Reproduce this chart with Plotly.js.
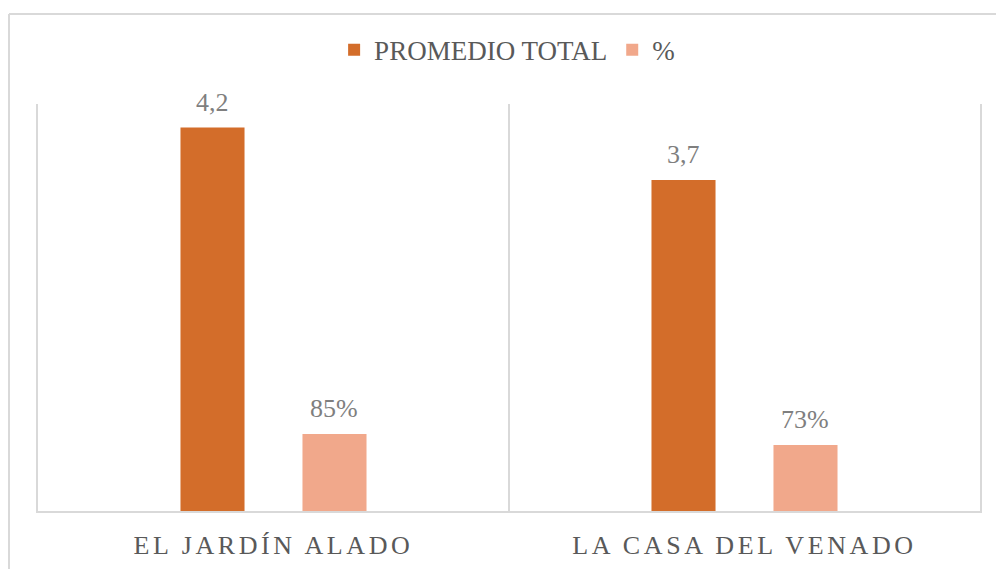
<!DOCTYPE html>
<html>
<head>
<meta charset="utf-8">
<script src="https://cdn.plot.ly/plotly-3.0.1.min.js"></script>
<style>
  html, body { margin: 0; padding: 0; background: #fff; }
  #chart { width: 996px; height: 569px; }
  .xtick text { letter-spacing: 3.6px; }
</style>
</head>
<body>
<div id="chart"></div>
<script>
const categories = ["EL JARDÍN ALADO", "LA CASA DEL VENADO"];
const promedioTotal = [4.24, 3.66];
const porcentaje = [0.85, 0.73];
const seriesNames = ["PROMEDIO TOTAL", "%"];

const serif = "Liberation Serif, Times New Roman, serif";
const bargap = 0.482, bargroupgap = 0.475;

const traces = [
  {
    type: "bar", name: seriesNames[0], x: categories, y: promedioTotal,
    marker: { color: "#D36D2A" }, hoverinfo: "skip"
  },
  {
    type: "bar", name: seriesNames[1], x: categories, y: porcentaje,
    marker: { color: "#F1A88B" }, hoverinfo: "skip"
  }
];

// data labels placed over each bar (offset derived from the bar grouping settings)
const nSeries = 2;
const slot = (1 - bargap) / nSeries;
const seriesData = [
  { y: promedioTotal, fmt: v => v.toFixed(1).replace(".", ",") },
  { y: porcentaje, fmt: v => Math.round(v * 100) + "%" }
];
const annotations = [];
seriesData.forEach((s, si) => {
  const off = -(1 - bargap) / 2 + slot * (si + 0.5);
  s.y.forEach((v, ci) => {
    annotations.push({
      xref: "x", yref: "y", x: ci + off, y: v, text: s.fmt(v),
      showarrow: false, yanchor: "bottom", xanchor: "center", yshift: 9,
      font: { family: serif, size: 26, color: "#7F7F7F" }
    });
  });
});

const layout = {
  width: 996, height: 569,
  margin: { l: 38, r: 16, t: 104, b: 58, pad: 0 },
  paper_bgcolor: "#ffffff", plot_bgcolor: "#ffffff",
  separators: ",.",
  barmode: "group", bargap: bargap, bargroupgap: bargroupgap,
  showlegend: true,
  legend: {
    orientation: "h", x: 0.498, xanchor: "center", y: 1.132, yanchor: "middle",
    font: { family: serif, size: 27, color: "#595959" },
    itemwidth: 30, bgcolor: "rgba(0,0,0,0)"
  },
  xaxis: {
    type: "category", tickson: "boundaries", showgrid: true,
    gridcolor: "#D9D9D9", gridwidth: 2,
    showline: true, linecolor: "#D9D9D9", linewidth: 2,
    ticks: "", tickfont: { family: serif, size: 26, color: "#595959" },
    ticklabelstandoff: 10, fixedrange: true
  },
  yaxis: {
    range: [0, 4.5], showgrid: false, zeroline: false, showticklabels: false,
    showline: true, mirror: true, linecolor: "#D9D9D9", linewidth: 2,
    ticks: "", fixedrange: true
  },
  annotations: annotations,
  shapes: [
    { type: "line", xref: "paper", yref: "paper", x0: -0.0308, x1: 1.1, y0: 1.2211, y1: 1.2211,
      line: { color: "#D9D9D9", width: 2 } },
    { type: "line", xref: "paper", yref: "paper", x0: -0.0308, x1: -0.0308, y0: 1.2211, y1: -0.3,
      line: { color: "#D9D9D9", width: 2 } }
  ]
};

Plotly.newPlot("chart", traces, layout, { displayModeBar: false, staticPlot: true });
</script>
</body>
</html>
